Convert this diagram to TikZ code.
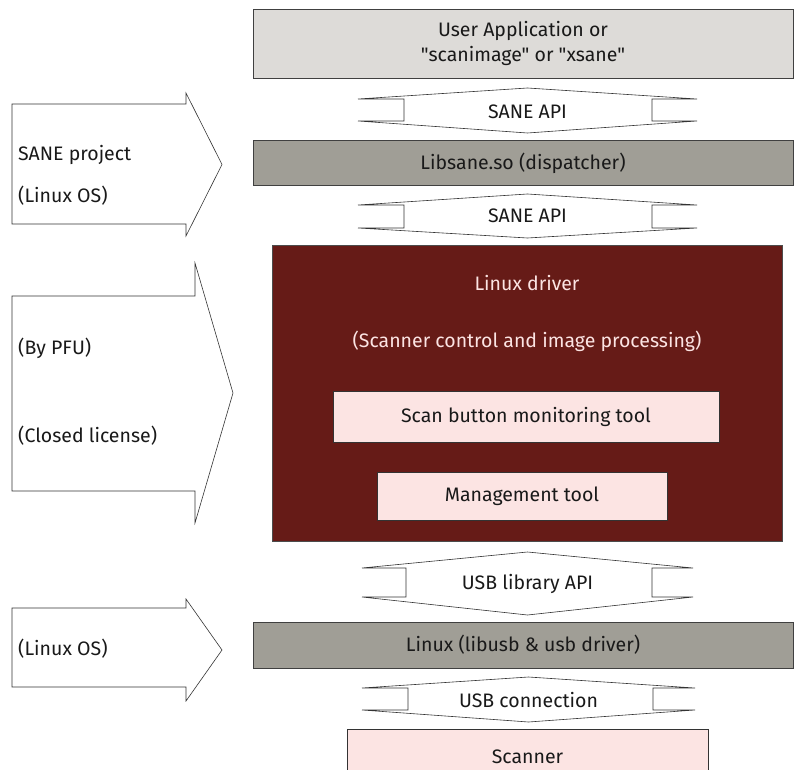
\documentclass[tikz,border=0pt]{standalone}
\usepackage{fontspec}
\setmainfont[Ligatures=TeXOff]{Fira Sans}
\begin{document}
\begin{tikzpicture}[x=1pt,y=-1pt,
  every node/.style={font=\fontsize{19.5}{22}\selectfont, text=black!90},
  lbox/.style={draw=black!75, line width=0.8pt, fill=boxgray},
  dbox/.style={draw=black!75, line width=0.8pt, fill=darkgray2},
  pbox/.style={draw=black!80, line width=0.8pt, fill=pinkfill},
  arr/.style={draw=black!80, line width=0.6pt, fill=white},
  lbl/.style={anchor=center, inner sep=0pt},
  side/.style={anchor=west, inner sep=0pt}]
\definecolor{boxgray}{HTML}{DDDBD8}
\definecolor{darkgray2}{HTML}{A09E96}
\definecolor{drvred}{HTML}{661B17}
\definecolor{pinkfill}{HTML}{FCE4E3}
\useasboundingbox (0,0) rectangle (795,770);
\newcommand{\dblarrow}[8]{%
  \draw[arr] ({(#1+#4)/2},#5) -- (#4,#6) -- (#3,#6) -- (#3,#7) -- (#4,#7) -- ({(#1+#4)/2},#8)
   -- (#1,#7) -- (#2,#7) -- (#2,#6) -- (#1,#6) -- cycle;}
\newcommand{\sidearrow}[7]{% left, headx, tipx, headtop, bodytop, bodybot, headbot
  \draw[arr] (#1,#5) -- (#2,#5) -- (#2,#4) -- (#3,{(#4+#7)/2}) -- (#2,#7) -- (#2,#6) -- (#1,#6) -- cycle;}

% left arrows
\sidearrow{12}{186}{222}{93}{104}{224}{236}
\node[side] (sp) at (18,155) {SANE project};
\node[side] (lo1) at (18,196) {(Linux OS)};
\sidearrow{12}{195}{233}{263}{296}{491}{523}
\node[side] (pfu) at (18,348) {(By PFU)};
\node[side] (cl) at (18,436) {(Closed license)};
\sidearrow{12}{186}{222}{599}{608}{687}{701}
\node[side] (lo2) at (18,649) {(Linux OS)};

% top box
\draw[lbox] (253,9) rectangle (793,78);
\node[lbl, align=center, font=\fontsize{19.5}{25}\selectfont] (app) at (523,43.5) {User Application or\\"scanimage" or "xsane"};

\dblarrow{358}{404}{652}{697}{88}{99}{121}{133}
\node[lbl] (api1) at (527.5,112) {SANE API};

\draw[dbox] (253,140) rectangle (793,185);
\node[lbl] (lib) at (523,163) {Libsane.so (dispatcher)};

\dblarrow{358}{404}{652}{697}{194}{205}{228}{238}
\node[lbl] (api2) at (527.5,216) {SANE API};

% driver
\draw[draw=black!70, line width=0.8pt, fill=drvred] (272,245) rectangle (782,541);
\node[lbl, text=pinkfill] (drv) at (527,283) {Linux driver};
\node[lbl, text=pinkfill] (drv2) at (527,341) {(Scanner control and image processing)};
\draw[pbox] (333,391) rectangle (719,442);
\node[lbl] (scan) at (526,417) {Scan button monitoring tool};
\draw[pbox] (377,472) rectangle (667,520);
\node[lbl] (mgmt) at (522,496) {Management tool};

\dblarrow{362}{406}{652}{693}{552}{568}{597}{615}
\node[lbl] (usbapi) at (527.5,584) {USB library API};

\draw[dbox] (253,622) rectangle (793,668);
\node[lbl] (linux) at (523,645) {Linux (libusb \& usb driver)};

\dblarrow{362}{408}{653}{695}{677}{688}{710}{722}
\node[lbl] (usbc) at (528.5,700) {USB connection};

\draw[pbox] (347,729) rectangle (708,775);
\node[lbl] (scanner) at (527.5,757) {Scanner};
\end{tikzpicture}
\end{document}
